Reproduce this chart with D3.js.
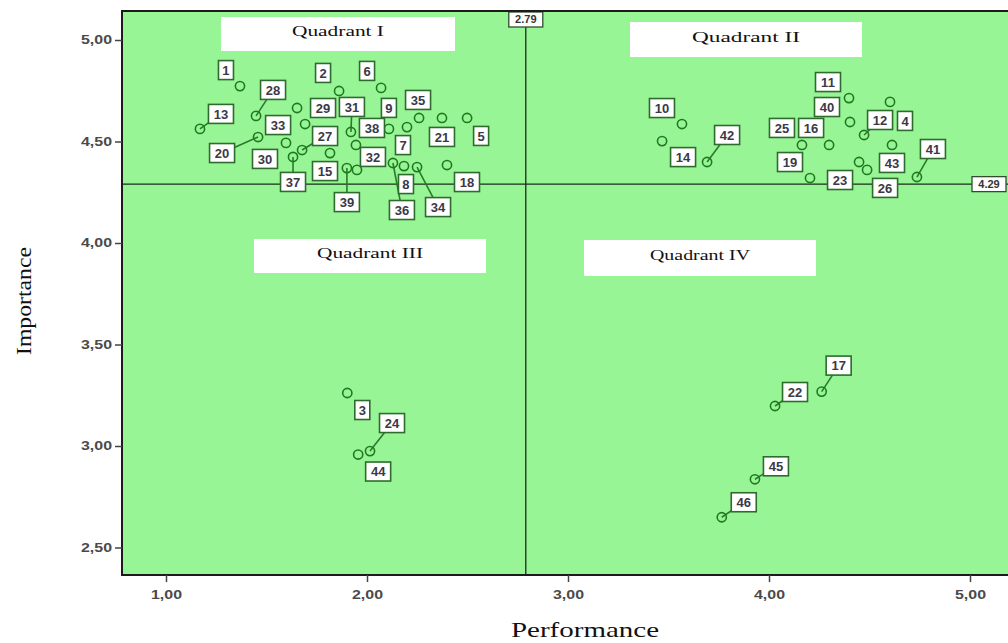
<!DOCTYPE html>
<html><head><meta charset="utf-8">
<script src="https://cdn.jsdelivr.net/npm/d3@7"></script>
<style>body{margin:0;background:#fff;} svg{display:block;}</style>
</head><body>
<svg id="chart" width="1008" height="643"></svg>
<script>
// ---------- data ----------
const ids         = [1,28,13,20,29,30,33,37,27,2,6,31,9,38,15,39,32,36,8,34,7,35,21,5,18,
                     10,14,42,11,40,4,12,25,16,19,23,26,43,41,3,24,44,22,17,45,46];
const performance = [1.368,1.448,1.169,1.458,1.652,1.597,1.692,1.632,1.677,1.861,2.070,1.920,2.109,1.945,1.816,1.900,1.950,2.129,2.184,2.249,2.199,2.259,2.373,2.498,2.398,
                     3.567,3.468,3.692,4.398,4.403,4.602,4.473,4.164,4.299,4.204,4.448,4.488,4.612,4.736,1.902,2.015,1.956,4.030,4.262,3.930,3.765];
const importance  = [4.773,4.626,4.562,4.522,4.665,4.493,4.586,4.424,4.458,4.749,4.764,4.547,4.562,4.483,4.443,4.369,4.360,4.394,4.379,4.374,4.571,4.616,4.616,4.616,4.384,
                     4.586,4.502,4.399,4.714,4.596,4.695,4.532,4.483,4.483,4.320,4.399,4.360,4.483,4.325,3.261,2.975,2.958,3.197,3.268,2.836,2.649];
const xTicks = [1, 2, 3, 4, 5];
const yTicks = [2.5, 3, 3.5, 4, 4.5, 5];
const refPerformance = 2.79;
const refImportance = 4.29;
const quadrantNames = ["Quadrant I", "Quadrant II", "Quadrant III", "Quadrant IV"];
const xTitle = "Performance", yTitle = "Importance";

// ---------- layout (label offsets in px, connector flag) ----------
const labelLayout = {
  1:[-14,-16,0],28:[17,-26,1],13:[21,-15,1],20:[-36,16,1],29:[26,0,0],30:[-21,16,0],33:[-27,1,0],
  37:[0,25,1],27:[23,-14,1],2:[-16,-18,0],6:[-14,-17,0],31:[1,-25,1],9:[0,-21,0],38:[16,-17,0],
  15:[-5,18,0],39:[0,34,1],32:[16,-13,0],36:[9,47,1],8:[2,18,0],34:[21,40,1],7:[-4,18,0],
  35:[-1,-18,0],21:[0,19,0],5:[14,18,0],18:[20,17,0],
  10:[-20,-16,0],14:[21,16,0],42:[20,-27,1],11:[-21,-16,0],40:[-23,-15,0],4:[15,19,0],12:[16,-15,1],
  25:[-20,-17,0],16:[-18,-17,0],19:[-20,-16,0],23:[-19,18,0],26:[18,18,0],43:[0,18,0],41:[16,-28,1],
  3:[15,17,0],24:[22,-28,1],44:[20,17,0],22:[20,-14,1],17:[17,-26,1],45:[21,-13,1],46:[22,-15,1]
};

const plot = {left:122, right:1018, top:11, bottom:575};
const x = d3.scaleLinear().domain([1 - (166-122)/201, 1 + (1018-166)/201]).range([plot.left, plot.right]);
const y = d3.scaleLinear().domain([5 - (575-40)/203, 5 + (40-11)/203]).range([plot.bottom, plot.top]);

const svg = d3.select("#chart");
const comma = v => d3.format(".2f")(v).replace(".", ",");

// background
svg.append("rect").attr("x", plot.left).attr("y", plot.top)
  .attr("width", plot.right-plot.left).attr("height", plot.bottom-plot.top)
  .attr("fill", "#98f596");

// quadrant boxes
const quadBoxes = [
  {name: quadrantNames[0], x0: 221, x1: 455, y0: 17, y1: 51, tl: 92},
  {name: quadrantNames[1], x0: 630, x1: 862, y0: 22, y1: 57, tl: 108},
  {name: quadrantNames[2], x0: 254, x1: 486, y0: 239, y1: 273, tl: 106},
  {name: quadrantNames[3], x0: 584, x1: 816, y0: 240, y1: 276, tl: 100}
];
const qg = svg.append("g");
qg.selectAll("rect").data(quadBoxes).join("rect")
  .attr("x", d=>d.x0).attr("y", d=>d.y0).attr("width", d=>d.x1-d.x0).attr("height", d=>d.y1-d.y0)
  .attr("fill", "#fff");
qg.selectAll("text").data(quadBoxes).join("text")
  .attr("x", d=>(d.x0+d.x1)/2).attr("y", d=>(d.y0+d.y1)/2 - 1)
  .attr("text-anchor", "middle").attr("dominant-baseline", "middle")
  .attr("textLength", d=>d.tl).attr("lengthAdjust", "spacingAndGlyphs")
  .attr("font-family", "Liberation Serif, Times New Roman, serif").attr("font-size", 15)
  .attr("fill", "#111").text(d=>d.name);

// reference lines
svg.append("line").attr("x1", x(refPerformance)).attr("x2", x(refPerformance))
  .attr("y1", plot.top).attr("y2", plot.bottom).attr("stroke", "#1a2a1a").attr("stroke-width", 1.3);
svg.append("line").attr("x1", plot.left).attr("x2", plot.right)
  .attr("y1", y(refImportance)).attr("y2", y(refImportance)).attr("stroke", "#1a2a1a").attr("stroke-width", 1.3);

// points
const pts = ids.map((id,i)=>({id, px: x(performance[i]), py: y(importance[i]), lay: labelLayout[id]}));

// connectors
svg.append("g").selectAll("line").data(pts.filter(d=>d.lay[2])).join("line")
  .attr("x1", d=>d.px).attr("y1", d=>d.py)
  .attr("x2", d=>d.px+d.lay[0]).attr("y2", d=>d.py+d.lay[1])
  .attr("stroke", "#2a7a2a").attr("stroke-width", 1.6);

// circles
svg.append("g").selectAll("circle").data(pts).join("circle")
  .attr("cx", d=>d.px).attr("cy", d=>d.py).attr("r", 4.6)
  .attr("fill", "none").attr("stroke", "#1f7a1f").attr("stroke-width", 1.6);

// point labels
const lg = svg.append("g").selectAll("g").data(pts).join("g")
  .attr("transform", d=>`translate(${d.px+d.lay[0]},${d.py+d.lay[1]})`);
lg.append("rect")
  .attr("x", d=> -(String(d.id).length>1 ? 12.5 : 7.5)).attr("y", -9.5)
  .attr("width", d=> String(d.id).length>1 ? 25 : 15).attr("height", 19)
  .attr("fill", "#fff").attr("stroke", "#2e6b2e").attr("stroke-width", 1.6);
lg.append("text").attr("text-anchor", "middle").attr("dy", "0.36em")
  .attr("font-family", "Liberation Sans, Arial, sans-serif").attr("font-size", 13)
  .attr("font-weight", "bold").attr("fill", "#3b3848").text(d=>d.id);

// reference labels
function refLabel(cx, cy, txt){
  const g = svg.append("g").attr("transform", `translate(${cx},${cy})`);
  g.append("rect").attr("x", -17).attr("y", -7.5).attr("width", 34).attr("height", 15)
    .attr("fill", "#fff").attr("stroke", "#2e4e2e").attr("stroke-width", 1.3);
  g.append("text").attr("text-anchor", "middle").attr("dy", "0.35em")
    .attr("font-family", "Liberation Sans, Arial, sans-serif").attr("font-size", 11)
    .attr("font-weight", "bold").attr("fill", "#333").text(txt);
}
refLabel(x(refPerformance), plot.top + 8.5, String(refPerformance));
refLabel(989, y(refImportance), String(refImportance));

// frame
svg.append("rect").attr("x", plot.left).attr("y", plot.top)
  .attr("width", plot.right-plot.left).attr("height", plot.bottom-plot.top)
  .attr("fill", "none").attr("stroke", "#1b1b1b").attr("stroke-width", 2);

// axes
const xAxis = svg.append("g").attr("transform", `translate(0,${plot.bottom})`)
  .call(d3.axisBottom(x).tickValues(xTicks).tickFormat(comma).tickSize(7).tickPadding(8));
const yAxis = svg.append("g").attr("transform", `translate(${plot.left},0)`)
  .call(d3.axisLeft(y).tickValues(yTicks).tickFormat(comma).tickSize(7).tickPadding(3));
[xAxis, yAxis].forEach(a=>{
  a.select(".domain").remove();
  a.selectAll(".tick line").attr("stroke", "#444").attr("stroke-width", 1.5);
  a.selectAll(".tick text").attr("font-family", "Liberation Sans, Arial, sans-serif")
    .attr("font-size", 12).attr("font-weight", "bold").attr("fill", "#4a4a4a")
    .attr("textLength", 31).attr("lengthAdjust", "spacingAndGlyphs");
});

// axis titles
svg.append("text").attr("x", 585).attr("y", 637).attr("text-anchor", "middle")
  .attr("textLength", 148).attr("lengthAdjust", "spacingAndGlyphs")
  .attr("font-family", "Liberation Serif, Times New Roman, serif").attr("font-size", 22)
  .attr("fill", "#111").text(xTitle);
svg.append("text").attr("transform", "translate(31,301) rotate(-90)").attr("text-anchor", "middle")
  .attr("textLength", 108).attr("lengthAdjust", "spacingAndGlyphs")
  .attr("font-family", "Liberation Serif, Times New Roman, serif").attr("font-size", 20)
  .attr("fill", "#111").text(yTitle);
</script>
</body></html>
